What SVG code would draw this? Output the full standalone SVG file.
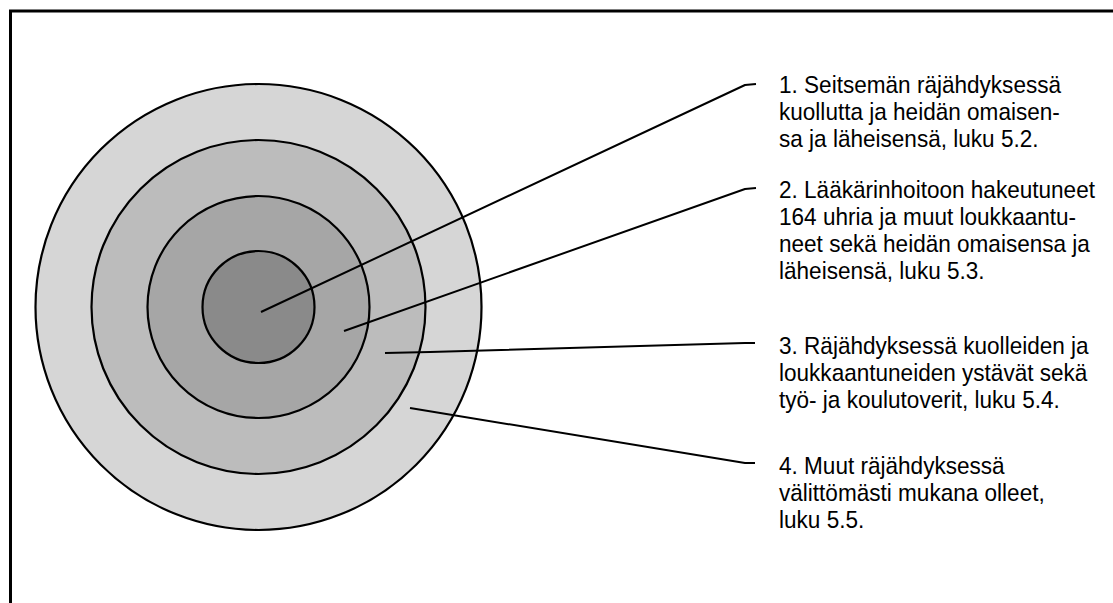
<svg xmlns="http://www.w3.org/2000/svg" width="1113" height="603" viewBox="0 0 1113 603">
<style>
.ring{stroke:#000;stroke-width:2.2}
.conn{fill:none;stroke:#000;stroke-width:2;stroke-linejoin:round}
.lbl{font-family:"Liberation Sans",Arial,sans-serif;font-size:24px;fill:#000}
</style>
<rect x="0" y="0" width="1113" height="603" fill="#fff"/>
<rect id="frame" x="10.5" y="11" width="1200" height="700" fill="none" stroke="#000" stroke-width="3"/>
<g id="ring4"><circle class="ring" cx="258.5" cy="307" r="223" fill="#d6d6d6"/></g>
<g id="ring3"><circle class="ring" cx="258.5" cy="307" r="167" fill="#bcbcbc"/></g>
<g id="ring2"><circle class="ring" cx="258.5" cy="307" r="111" fill="#a6a6a6"/></g>
<g id="ring1"><circle class="ring" cx="258.5" cy="307" r="56" fill="#8a8a8a"/></g>
<g id="connectors">
<polyline class="conn" points="261,312 745,85 756,84"/>
<polyline class="conn" points="344,331 745,189 756,188"/>
<polyline class="conn" points="385,353 430,352 745,343 755,343"/>
<polyline class="conn" points="410,408 745,463 755,463"/>
</g>
<g id="label1" class="lbl" transform="translate(779,0) scale(0.94,1)">
<text x="0" y="93">1. Seitsemän räjähdyksessä</text>
<text x="0" y="120">kuollutta ja heidän omaisen-</text>
<text x="0" y="147">sa ja läheisensä, luku 5.2.</text>
</g>
<g id="label2" class="lbl" transform="translate(779,0) scale(0.94,1)">
<text x="0" y="198">2. Lääkärinhoitoon hakeutuneet</text>
<text x="0" y="225">164 uhria ja muut loukkaantu-</text>
<text x="0" y="252">neet sekä heidän omaisensa ja</text>
<text x="0" y="279">läheisensä, luku 5.3.</text>
</g>
<g id="label3" class="lbl" transform="translate(779,0) scale(0.94,1)">
<text x="0" y="354">3. Räjähdyksessä kuolleiden ja</text>
<text x="0" y="381">loukkaantuneiden ystävät sekä</text>
<text x="0" y="408">työ- ja koulutoverit, luku 5.4.</text>
</g>
<g id="label4" class="lbl" transform="translate(779,0) scale(0.94,1)">
<text x="0" y="474">4. Muut räjähdyksessä</text>
<text x="0" y="501">välittömästi mukana olleet,</text>
<text x="0" y="528">luku 5.5.</text>
</g>
</svg>
